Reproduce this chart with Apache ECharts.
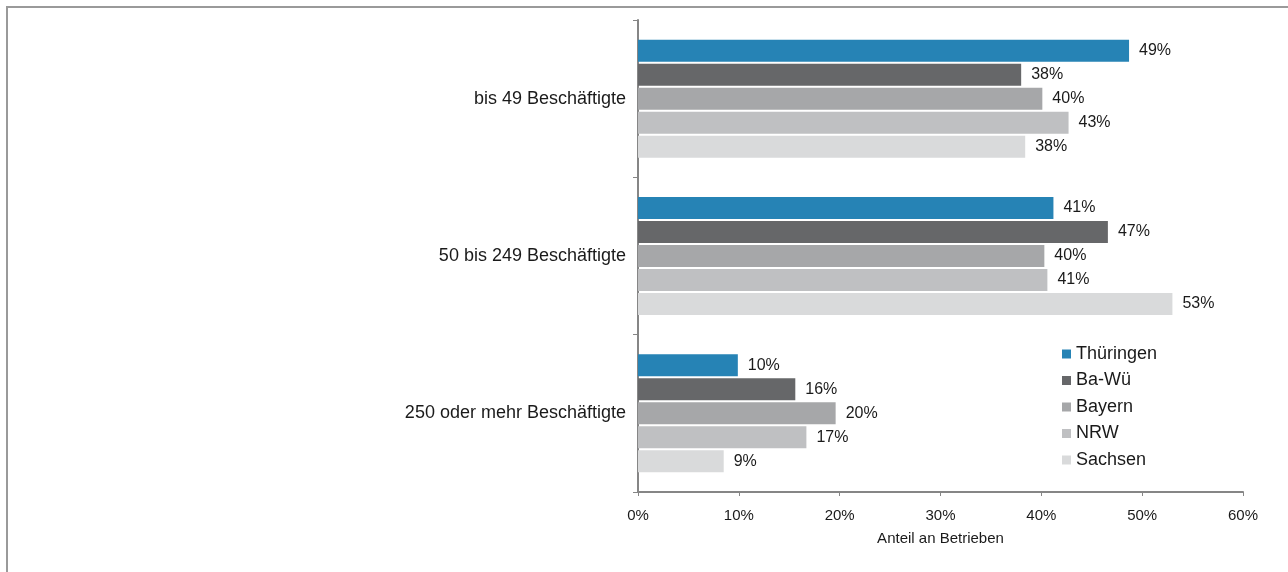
<!DOCTYPE html>
<html>
<head>
<meta charset="utf-8">
<style>
  html, body { margin: 0; padding: 0; background: #fff; }
  #frame { position: absolute; left: 6px; top: 6px; width: 1282px; height: 566px;
           border-top: 2px solid #9a9a9a; border-left: 2px solid #9a9a9a; box-sizing: border-box; }
  #chart { position: absolute; left: 0; top: 0; width: 1288px; height: 572px; }
</style>
<script src="https://cdn.jsdelivr.net/npm/echarts@6/dist/echarts.min.js"></script>
</head>
<body>
<div id="frame"></div>
<div id="chart"></div>
<script>
// Anteil der Betriebe nach Betriebsgröße, je Bundesland (in %)
const categories = ['bis 49 Beschäftigte', '50 bis 249 Beschäftigte', '250 oder mehr Beschäftigte'];
const regions = ['Thüringen', 'Ba-Wü', 'Bayern', 'NRW', 'Sachsen'];
const thueringen = [48.7, 41.2, 9.9];
const baWue = [38.0, 46.6, 15.6];
const bayern = [40.1, 40.3, 19.6];
const nrw = [42.7, 40.6, 16.7];
const sachsen = [38.4, 53.0, 8.5];
const xTicks = [0, 10, 20, 30, 40, 50, 60];

const values = [thueringen, baWue, bayern, nrw, sachsen];
const colors = ['#2683b5', '#666769', '#a6a7a9', '#bfc0c2', '#d9dadb'];

const chart = echarts.init(document.getElementById('chart'), null, { renderer: 'canvas' });

chart.setOption({
  backgroundColor: 'transparent',
  animation: false,
  textStyle: { fontFamily: 'Liberation Sans, Arial, sans-serif' },
  grid: { left: 638, right: 45, top: 20, bottom: 80, containLabel: false },
  legend: {
    data: regions,
    orient: 'vertical',
    left: 1057,
    top: 340,
    icon: 'rect',
    itemWidth: 9,
    itemHeight: 9,
    itemGap: 8.5,
    textStyle: { fontSize: 18, color: '#1a1a1a', lineHeight: 18, padding: [0, 0, 0, 0] }
  },
  xAxis: {
    type: 'value',
    min: xTicks[0],
    max: xTicks[xTicks.length - 1],
    interval: 10,
    name: 'Anteil an Betrieben',
    nameLocation: 'middle',
    nameGap: 39,
    nameTextStyle: { fontSize: 15, color: '#1a1a1a' },
    axisLine: { show: true, lineStyle: { color: '#868686', width: 2 } },
    axisTick: { show: true, length: 4, lineStyle: { color: '#868686', width: 1 } },
    axisLabel: { fontSize: 15, color: '#1a1a1a', margin: 16, formatter: v => v + '%' },
    splitLine: { show: false }
  },
  yAxis: {
    type: 'category',
    data: categories,
    inverse: true,
    axisLine: { show: true, lineStyle: { color: '#868686', width: 2 } },
    axisTick: { show: true, length: 5, lineStyle: { color: '#868686', width: 1 } },
    axisLabel: { fontSize: 18, color: '#1a1a1a', margin: 12 }
  },
  series: regions.map((name, i) => ({
    name: name,
    type: 'bar',
    data: values[i],
    barWidth: 22,
    barGap: '9%',
    itemStyle: { color: colors[i] },
    label: {
      show: true,
      position: 'right',
      distance: 10,
      fontSize: 16,
      color: '#1a1a1a',
      formatter: p => Math.round(p.value) + '%'
    }
  }))
});
</script>
</body>
</html>
